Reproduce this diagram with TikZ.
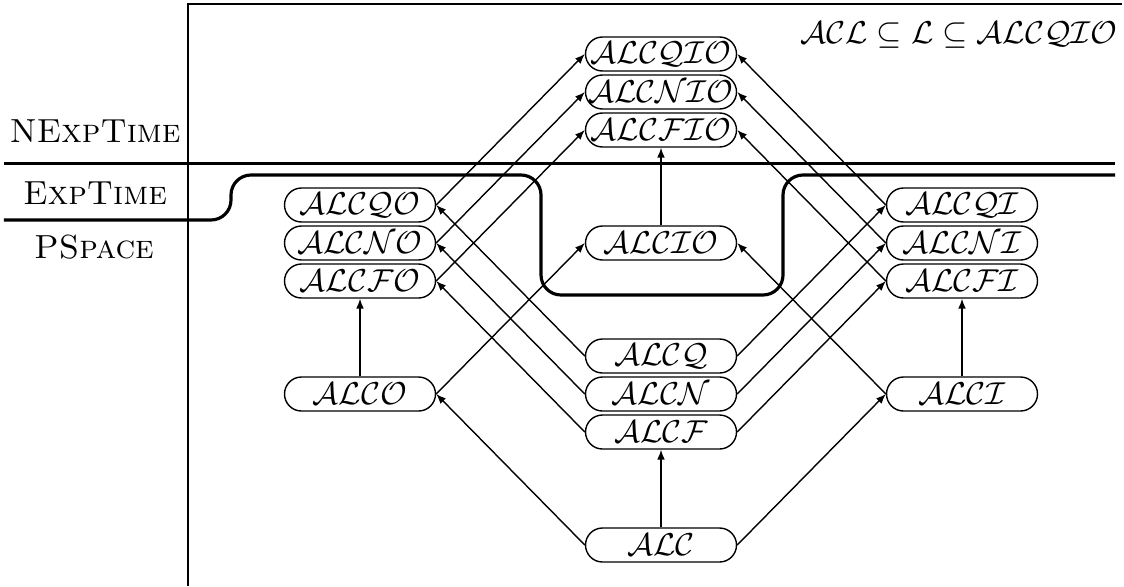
\documentclass[tikz,border=0pt]{standalone}
\usetikzlibrary{arrows.meta}
\begin{document}
\begin{tikzpicture}[scale=1,font=\fontsize{9.5}{11}\selectfont,
    dl/.style={shape=rectangle,rounded corners=0.17cm,draw=black,minimum width=1.51cm,minimum height=0.34cm,inner sep=0pt},
    sep/.style={line width=0.9pt}]
      \useasboundingbox (0,0) rectangle (11.24,-5.86);
      % frame and complexity classes
      \draw (1.88,-5.86) -- (1.88,-0.04) -- (11.22,-0.04);
      \node (nexp) at (0.95,-1.31) {\textsc{NExpTime}};
      \node (exp) at (0.95,-1.93) {\textsc{ExpTime}};
      \node (pspace) at (0.94,-2.47) {\textsc{PSpace}};
      \node (title) at (9.59,-0.35) {$\mathcal{ACL}\subseteq\mathcal{L}\subseteq\mathcal{ALCQIO}$};
      \draw[sep] (0.04,-1.635) -- (11.15,-1.635);
      \draw[sep,rounded corners=0.2cm] (0.04,-2.20) -- (2.31,-2.20) -- (2.31,-1.75) -- (5.41,-1.75)
        -- (5.41,-2.95) -- (7.83,-2.95) -- (7.83,-1.75) -- (11.15,-1.75);
      % logics
      \draw
        (6.61, -0.54) node[dl] (alcqio){$\mathcal{ALCQIO}$}
        (6.61, -0.92) node[dl] (alcnio){$\mathcal{ALCNIO}$}
        (6.61, -1.30) node[dl] (alcfio){$\mathcal{ALCFIO}$}
        (3.60, -2.05) node[dl] (alcqo){$\mathcal{ALCQO}$}
        (3.60, -2.43) node[dl] (alcno){$\mathcal{ALCNO}$}
        (3.60, -2.81) node[dl] (alcfo){$\mathcal{ALCFO}$}
        (6.61, -2.43) node[dl] (alcio){$\mathcal{ALCIO}$}
        (9.62, -2.05) node[dl] (alcqi){$\mathcal{ALCQI}$}
        (9.62, -2.43) node[dl] (alcni){$\mathcal{ALCNI}$}
        (9.62, -2.81) node[dl] (alcfi){$\mathcal{ALCFI}$}
        (6.61, -3.56) node[dl] (alcq){$\mathcal{ALCQ}$}
        (6.61, -3.94) node[dl] (alcn){$\mathcal{ALCN}$}
        (6.61, -4.32) node[dl] (alcf){$\mathcal{ALCF}$}
        (3.60, -3.94) node[dl] (alco){$\mathcal{ALCO}$}
        (9.62, -3.94) node[dl] (alci){$\mathcal{ALCI}$}
        (6.61, -5.45) node[dl] (alc){$\mathcal{ALC}$};
      \begin{scope}[-{Latex[length=2.8pt,width=2.2pt]}]
        \draw (alc.west) to (alco.east);
        \draw (alc.north) to (alcf.south);
        \draw (alc.east) to (alci.west);
        \draw (alco.north) to (alcfo.south);
        \draw (alco.east) to (alcio.west);
        \draw (alci.north) to (alcfi.south);
        \draw (alci.west) to (alcio.east);
        \draw (alcf.west) to (alcfo.east);
        \draw (alcn.west) to (alcno.east);
        \draw (alcq.west) to (alcqo.east);
        \draw (alcf.east) to (alcfi.west);
        \draw (alcn.east) to (alcni.west);
        \draw (alcq.east) to (alcqi.west);
        \draw (alcfo.east) to (alcfio.west);
        \draw (alcno.east) to (alcnio.west);
        \draw (alcqo.east) to (alcqio.west);
        \draw (alcfi.west) to (alcfio.east);
        \draw (alcni.west) to (alcnio.east);
        \draw (alcqi.west) to (alcqio.east);
        \draw (alcio.north) to (alcfio.south);
      \end{scope}
    \end{tikzpicture}
\end{document}
